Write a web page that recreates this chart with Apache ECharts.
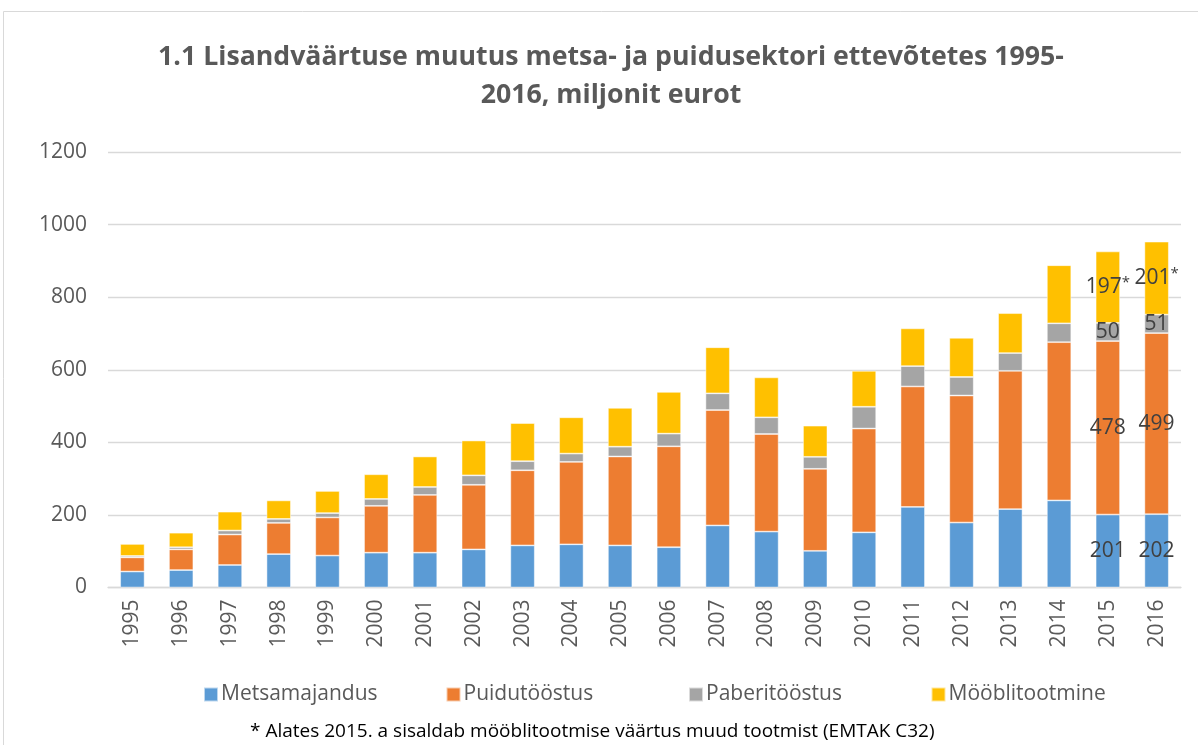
<!DOCTYPE html>
<html>
<head>
<meta charset="utf-8">
<script src="https://cdn.jsdelivr.net/npm/echarts@6/dist/echarts.min.js"></script>
<style>
  html, body { margin: 0; padding: 0; background: #fff; }
  #chart { width: 1198px; height: 745px; }
</style>
</head>
<body>
<div id="chart"></div>
<script>
const years = ['1995','1996','1997','1998','1999','2000','2001','2002','2003','2004','2005','2006','2007','2008','2009','2010','2011','2012','2013','2014','2015','2016'];
const metsamajandus = [44,48,62,92,88,96,96,105,116,119,116,111,171,154,101,152,222,179,216,240,201,202];
const puidutoostus  = [39,57,84,86,105,129,159,178,207,227,245,278,318,269,226,286,332,350,381,436,478,499];
const paberitoostus = [4,6,11,11,12,19,22,26,25,23,27,35,46,46,33,60,56,51,49,52,50,51];
const mooblitootmine= [33,40,52,51,61,68,84,96,105,100,107,115,127,110,86,99,104,108,110,160,197,201];
const yTicks = [0,200,400,600,800,1000,1200];
const labelledYears = ['2015','2016'];
const seriesNames = ['Metsamajandus','Puidutööstus','Paberitööstus','Mööblitootmine'];
const starredSeries = ['Mööblitootmine'];
const colors = ['#5B9BD5','#ED7D31','#A5A5A5','#FFC000'];
const titleText = '1.1 Lisandväärtuse muutus metsa- ja puidusektori ettevõtetes 1995-\n2016, miljonit eurot';
const footnote = '* Alates 2015. a sisaldab mööblitootmise väärtus muud tootmist (EMTAK C32)';

const FONT = 'Open Sans';
const chart = echarts.init(document.getElementById('chart'));

function makeData(values, name) {
  const star = starredSeries.indexOf(name) >= 0;
  return values.map((v, i) => {
    if (labelledYears.indexOf(years[i]) >= 0) {
      return {
        value: v,
        label: {
          show: true,
          position: 'inside',
          formatter: star ? '{n|{c}}{s|*}' : '{n|{c}}',
          rich: {
            n: { fontFamily: FONT, fontSize: 21, color: '#404040' },
            s: { fontFamily: FONT, fontSize: 15, color: '#404040', padding: [0, 0, 8, 0] }
          }
        }
      };
    }
    return v;
  });
}

const allValues = [metsamajandus, puidutoostus, paberitoostus, mooblitootmine];
const series = seriesNames.map((name, k) => ({
  name: name,
  type: 'bar',
  stack: 'total',
  barWidth: '50%',
  itemStyle: { color: colors[k], borderColor: 'rgba(255,255,255,0.6)', borderWidth: 0.8 },
  data: makeData(allValues[k], name)
}));

const legendLefts = [203, 445.5, 688, 930.5];
const legends = seriesNames.map((name, k) => ({
  bottom: 40,
  left: legendLefts[k],
  padding: 0,
  itemWidth: 14,
  itemHeight: 14,
  icon: 'rect',
  textStyle: { fontFamily: FONT, fontSize: 21, color: '#595959', padding: [0, 0, 0, -2] },
  data: [name]
}));

chart.setOption({
  animation: false,
  backgroundColor: '#fff',
  legend: legends,
  grid: { left: 108, right: 17, top: 152, bottom: 157.5, containLabel: false },
  xAxis: {
    type: 'category',
    data: years,
    axisLine: { show: true, lineStyle: { color: '#d9d9d9', width: 1.3 } },
    axisTick: { show: false },
    axisLabel: { rotate: 90, margin: 12, fontFamily: FONT, fontSize: 21, color: '#595959' }
  },
  yAxis: {
    type: 'value',
    min: yTicks[0],
    max: yTicks[yTicks.length - 1],
    interval: yTicks[1] - yTicks[0],
    axisLine: { show: false },
    axisTick: { show: false },
    splitLine: { lineStyle: { color: '#d9d9d9', width: 1.3 } },
    axisLabel: { margin: 21, fontFamily: FONT, fontSize: 21, color: '#595959', formatter: v => String(v) }
  },
  graphic: [
    {
      type: 'rect',
      z: -10,
      shape: { x: 3.5, y: 11.5, width: 1400, height: 900 },
      style: { fill: 'none', stroke: '#d9d9d9', lineWidth: 1 }
    },
    {
      type: 'text',
      x: 611,
      y: 38,
      style: {
        text: titleText, fontFamily: FONT, fontSize: 26.7, fontWeight: 'bold',
        fill: '#595959', lineHeight: 38, align: 'center', verticalAlign: 'top'
      }
    },
    {
      type: 'text',
      left: 250,
      top: 722,
      style: { text: footnote, fontFamily: FONT, fontSize: 19, fill: '#000' }
    }
  ],
  series: series
});
</script>
</body>
</html>
